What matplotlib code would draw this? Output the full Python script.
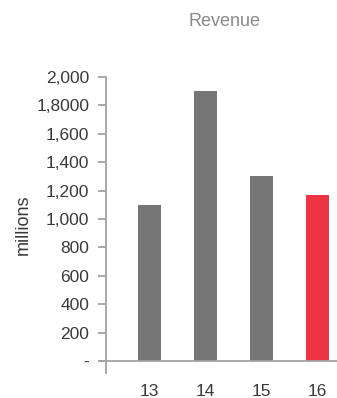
import numpy as np
import matplotlib.pyplot as plt

# Data
years = ['13', '14', '15', '16']
revenue = [1100, 1900, 1300, 1170]
bar_colors = ['#767677', '#767677', '#767677', '#EE3342']
y_ticks = [0, 200, 400, 600, 800, 1000, 1200, 1400, 1600, 1800, 2000]
y_tick_labels = ['-', '200', '400', '600', '800', '1,000', '1,200', '1,400', '1,600', '1,8000', '2,000']

plt.rcParams['font.family'] = ['Liberation Sans', 'DejaVu Sans']

fig = plt.figure(figsize=(3.37, 3.98), dpi=100)
ax = fig.add_axes([0.3145, 0.0628, 0.6855, 0.7437])

x = np.arange(len(years))
ax.bar(x, revenue, width=0.41, color=bar_colors)

ax.set_xlim(-0.777, 3.348)
ax.set_ylim(-85, 2000)

axis_color = '#A3A3A5'
for s in ['top', 'right', 'bottom']:
    ax.spines[s].set_visible(False)
ax.spines['left'].set_color(axis_color)
ax.spines['left'].set_linewidth(1.3)

# zero line, starting at the tick
ax.plot([-0.028, 1], [0, 0], transform=ax.get_yaxis_transform(), color=axis_color,
        lw=1.3, clip_on=False)

ax.set_yticks(y_ticks)
ax.set_yticklabels(y_tick_labels)
ax.tick_params(axis='y', length=6, width=1.3, color=axis_color, pad=6,
               labelsize=12.5, labelcolor='#3A3A3A')
ax.set_xticks(x)
ax.set_xticklabels(years)
ax.tick_params(axis='x', length=0, pad=8, labelsize=12.5, labelcolor='#3A3A3A')

ax.set_ylabel('millions', fontsize=13, color='#3A3A3A', labelpad=3.5)
fig.text(0.665, 0.945, 'Revenue', ha='center', va='center', fontsize=13, color='#8A8A8A')

fig.savefig('out.png', dpi=100)
